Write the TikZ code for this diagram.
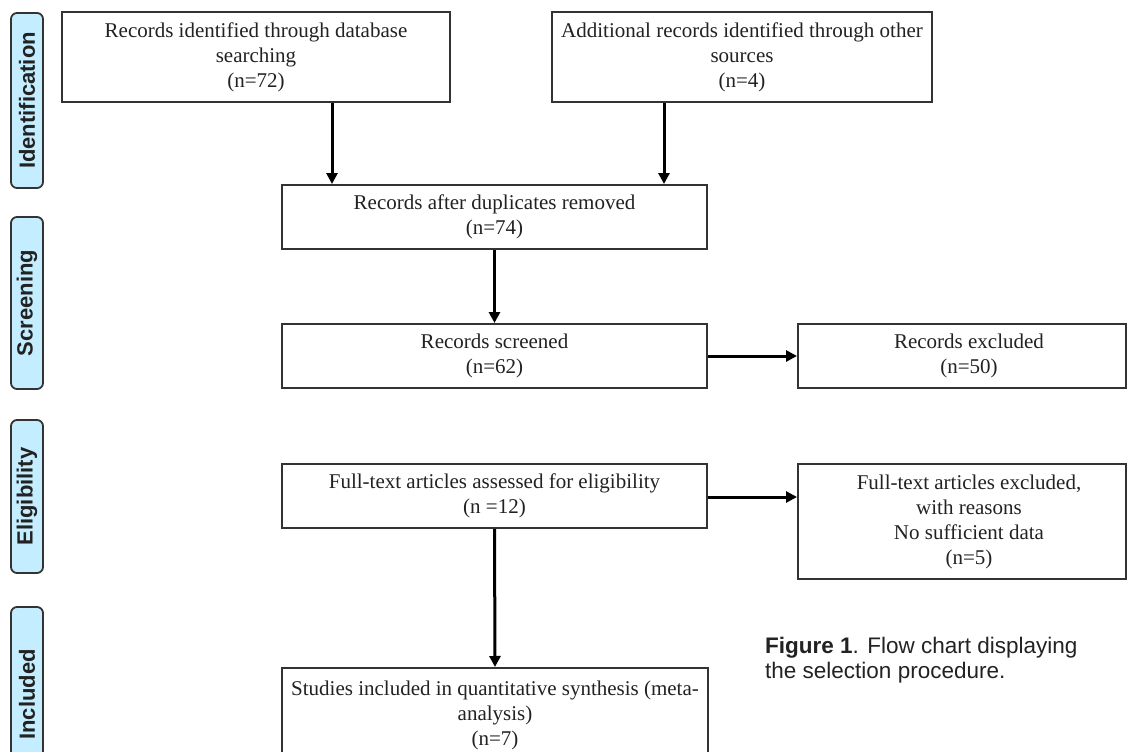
\documentclass[tikz,border=0pt]{standalone}
\usepackage{fontspec}
\setmainfont{Liberation Serif}
\newfontfamily\capfont{Liberation Sans}
\usetikzlibrary{arrows.meta}
\definecolor{pillblue}{HTML}{C4EEFF}
\definecolor{edge}{HTML}{333333}
\definecolor{ink}{HTML}{222222}
\begin{document}
\begin{tikzpicture}[x=1pt,y=-1pt,
  box/.style={draw=edge, line width=2pt, fill=white, inner sep=0pt, align=center,
    text=ink, font=\fontsize{21}{25}\selectfont},
  txt/.style={align=center, inner sep=0pt, text=ink, font=\fontsize{21}{25}\selectfont},
  pill/.style={draw=edge, line width=1.8pt, fill=pillblue, rounded corners=6pt,
    inner sep=0pt, rotate=90, minimum height=32pt, text=ink,
    font=\capfont\bfseries\fontsize{22}{24}\selectfont},
  arr/.style={line width=3pt, black, -{Triangle[width=11pt,length=11pt]}},
  caption/.style={anchor=base west, align=left, inner sep=0pt, text=ink,
    font=\capfont\fontsize{22.5}{25}\selectfont}
]
\useasboundingbox (0,0) rectangle (1128,752);
% phase labels
\node[pill, minimum width=175pt] (pid) at (27,100.5) {Identification};
\node[pill, minimum width=172pt] (psc) at (27,303) {Screening};
\node[pill, minimum width=153pt] (pel) at (27,496.5) {Eligibility};
\node[pill, minimum width=175pt] (pin) at (27,694.5) {Included};
% boxes
\node[box, minimum width=388pt, minimum height=90pt] (A) at (256,57)
  {Records identified through database\\searching\\(n=72)};
\node[box, minimum width=380pt, minimum height=90pt] (B) at (742,57)
  {Additional records identified through other\\sources\\(n=4)};
\node[box, minimum width=425pt, minimum height=64pt] (C) at (494.5,217)
  {Records after duplicates removed\\(n=74)};
\node[box, minimum width=425pt, minimum height=64pt] (D) at (494.5,356)
  {Records screened\\(n=62)};
\node[box, minimum width=328pt, minimum height=64pt] (E) at (962,356) {};
\node[txt] (Et) at ([xshift=7pt]E.center) {Records excluded\\(n=50)};
\node[box, minimum width=425pt, minimum height=64pt] (F) at (494.5,496)
  {Full-text articles assessed for eligibility\\(n =12)};
\node[box, minimum width=328pt, minimum height=115pt] (G) at (962,521.5) {};
\node[txt] (Gt) at ([xshift=7pt]G.center)
  {Full-text articles excluded,\\with reasons\\No sufficient data\\(n=5)};
\node[box, minimum width=426pt, minimum height=110pt, anchor=north] (H) at (495,667) {};
\node[txt, anchor=base] (Ht) at (495,745)
  {Studies included in quantitative synthesis (meta-\\analysis)\\(n=7)};
% connectors
\draw[arr] (A.south -| 332,0) -- (C.north -| 332,0);
\draw[arr] (B.south -| 664,0) -- (C.north -| 664,0);
\draw[arr] (C.south) -- (D.north);
\draw[arr] (D.east) -- (E.west);
\draw[arr] (F.east |- 0,497) -- (G.west |- 0,497);
\draw[arr] (F.south) -- (H.north);
% caption
\node[caption] (cap) at (765,678)
  {\textbf{Figure 1}. Flow chart displaying\\the selection procedure.};
\end{tikzpicture}
\end{document}
